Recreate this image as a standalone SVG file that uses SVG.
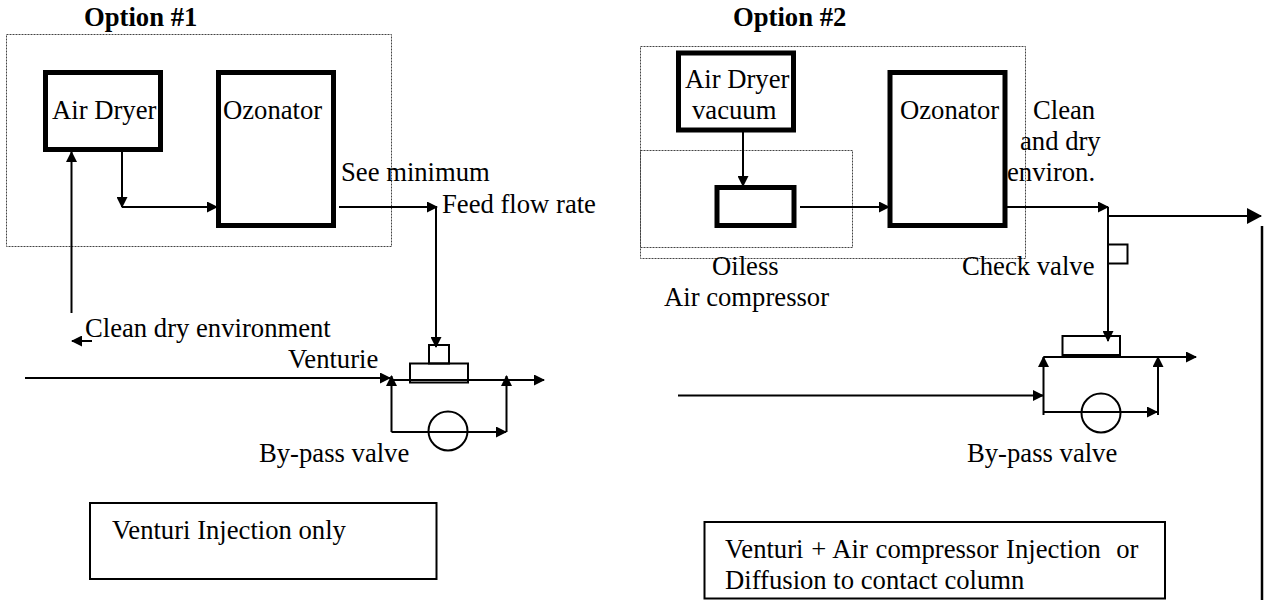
<svg xmlns="http://www.w3.org/2000/svg" width="1274" height="600" viewBox="0 0 1274 600">
<style>
text{font-family:"Liberation Serif","Times New Roman",serif;font-size:26.67px;fill:#000}
.t{font-weight:bold;font-size:26.67px}
.d{fill:none;stroke:#444;stroke-width:1;stroke-dasharray:2 1}
.b{fill:#fff;stroke:#000;stroke-width:5}
.n{fill:none;stroke:#000;stroke-width:2}
.c line,.c path{fill:none;stroke:#000;stroke-width:2}
</style>
<defs>
<marker id="a" markerUnits="userSpaceOnUse" markerWidth="11" markerHeight="11" refX="10" refY="5.5" orient="auto"><path d="M0 0L11 5.5L0 11Z" fill="#000"/></marker>
<marker id="A" markerUnits="userSpaceOnUse" markerWidth="15" markerHeight="16" refX="14" refY="8" orient="auto"><path d="M0 0L15 8L0 16Z" fill="#000"/></marker>
</defs>
<rect width="1274" height="600" fill="#fff"/>
<g id="frame1"><rect class="d" x="6.5" y="34.5" width="385" height="212"/></g>
<g id="frame2"><rect class="d" x="640.5" y="46.5" width="385" height="212"/></g>
<g id="frame3"><rect class="d" x="640.5" y="150.5" width="212" height="97"/></g>
<g id="title1"><text class="t" x="84" y="26">Option #1</text></g>
<g id="title2"><text class="t" x="733" y="26">Option #2</text></g>
<g id="dryer1"><rect class="b" x="45.5" y="72.5" width="115" height="77"/><text x="52" y="119">Air Dryer</text></g>
<g id="ozonator1"><rect class="b" x="218.5" y="72.5" width="115" height="153"/><text x="223" y="119">Ozonator</text></g>
<g id="dryer2"><rect class="b" x="678.5" y="53" width="115" height="77"/><text x="685" y="88">Air Dryer</text><text x="692" y="119">vacuum</text></g>
<g id="compressor2"><rect class="b" x="717" y="187.5" width="77" height="38"/></g>
<g id="ozonator2"><rect class="b" x="890" y="72.5" width="115" height="153"/><text x="900" y="119">Ozonator</text></g>
<g id="venturi1"><rect class="n" x="410" y="363.5" width="58" height="19"/><rect class="n" x="429" y="345" width="20" height="18.5"/></g>
<g id="bypass1"><ellipse class="n" cx="448" cy="431" rx="19.5" ry="19.5"/></g>
<g id="venturi2"><rect class="n" x="1062.5" y="336" width="57.5" height="19"/></g>
<g id="bypass2"><ellipse class="n" cx="1101" cy="413" rx="19.5" ry="19.5"/></g>
<g id="check"><rect class="n" x="1108" y="244.5" width="19.5" height="19"/></g>
<g id="box1"><rect class="n" x="90" y="503" width="346.5" height="76"/><text x="112" y="539">Venturi Injection only</text></g>
<g id="box2"><rect class="n" x="704.5" y="522" width="460.5" height="76.5"/><text x="725" y="558" xml:space="preserve" word-spacing="1">Venturi + Air compressor Injection  or</text><text x="725" y="589">Diffusion to contact column</text></g>
<g class="c" id="connectors">
<line x1="122" y1="152" x2="122" y2="207" marker-end="url(#a)"/>
<line x1="122" y1="207" x2="217" y2="207" marker-end="url(#a)"/>
<line x1="339" y1="207" x2="437" y2="207" marker-end="url(#a)"/>
<line x1="436" y1="207" x2="436" y2="347" marker-end="url(#a)"/>
<line x1="71.5" y1="313" x2="71.5" y2="152" marker-end="url(#a)"/>
<line x1="92" y1="341" x2="72" y2="341" marker-end="url(#a)"/>
<line x1="25" y1="378" x2="390" y2="378" marker-end="url(#a)"/>
<line x1="391.5" y1="432" x2="391.5" y2="376" marker-end="url(#a)"/>
<line x1="391.5" y1="380" x2="544" y2="380" marker-end="url(#a)"/>
<line x1="391.5" y1="432" x2="506" y2="432" marker-end="url(#a)"/>
<line x1="506.5" y1="432" x2="506.5" y2="376" marker-end="url(#a)"/>
<line x1="743" y1="132" x2="743" y2="186" marker-end="url(#a)"/>
<line x1="800" y1="207" x2="889" y2="207" marker-end="url(#a)"/>
<line x1="1007" y1="207" x2="1108" y2="207" marker-end="url(#a)"/>
<line x1="1108" y1="207" x2="1108" y2="341" marker-end="url(#a)"/>
<line x1="1108" y1="216" x2="1261" y2="216" marker-end="url(#A)"/>
<line x1="1262" y1="226" x2="1262" y2="600" style="stroke-width:2.5"/>
<line x1="1043.5" y1="357" x2="1196" y2="357" marker-end="url(#a)"/>
<line x1="1043.5" y1="415" x2="1043.5" y2="357" marker-end="url(#a)"/>
<line x1="1158" y1="415" x2="1158" y2="357" marker-end="url(#a)"/>
<line x1="1043.5" y1="412" x2="1157" y2="412" marker-end="url(#a)"/>
<line x1="678" y1="395.5" x2="1043" y2="395.5" marker-end="url(#a)"/>
</g>
<g id="labels">
<text x="341" y="181">See minimum</text>
<text x="442" y="213">Feed flow rate</text>
<text x="85" y="337">Clean dry environment</text>
<text x="288" y="368">Venturie</text>
<text x="259" y="462">By-pass valve</text>
<text x="1033" y="119">Clean</text>
<text x="1020" y="150">and dry</text>
<text x="1007" y="181">environ.</text>
<text x="712" y="275">Oiless</text>
<text x="664" y="306">Air compressor</text>
<text x="962" y="275">Check valve</text>
<text x="967" y="462">By-pass valve</text>
</g>
</svg>
